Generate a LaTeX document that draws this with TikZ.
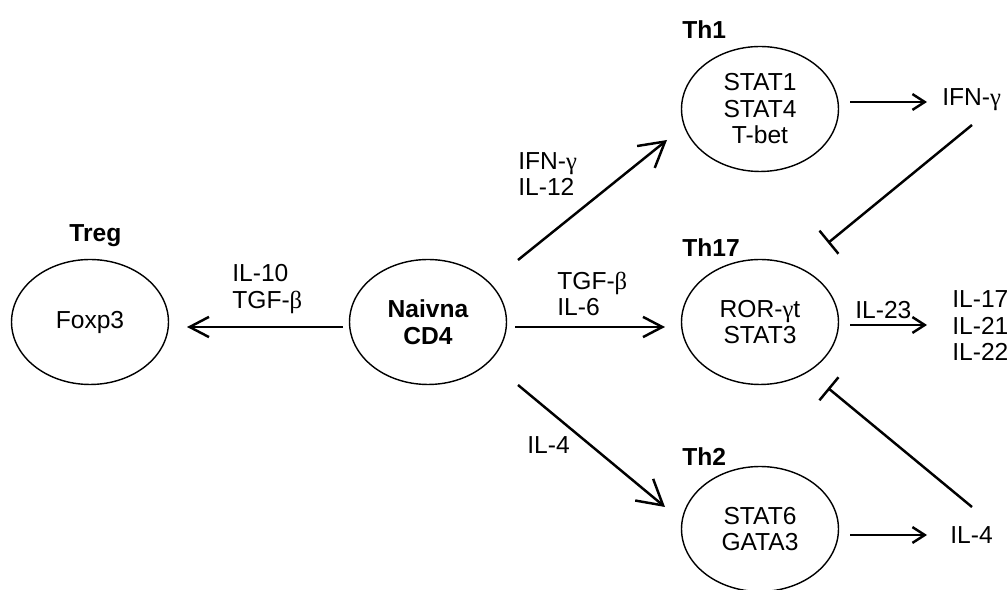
\documentclass[tikz,border=0pt]{standalone}
\usepackage{fontspec}
\setmainfont{Liberation Sans}
\newfontfamily\grk{Liberation Serif}
\usepackage{tikz}
\usetikzlibrary{calc, shapes.geometric, arrows.meta}

\newcommand{\gam}{{\grk γ}}
\newcommand{\bet}{{\grk β}}
\newcommand{\txtsize}{\fontsize{14}{15.1}\selectfont}

\begin{document}
\begin{tikzpicture}[x=0.02cm, y=-0.02cm,
    every node/.style={font=\txtsize},
    cell/.style={ellipse, draw=black, line width=0.8pt, minimum width=3.14cm, minimum height=2.5cm, inner sep=0pt, align=center},
    tag/.style={font=\txtsize\bfseries, inner sep=0pt, anchor=base west},
    txt/.style={align=left, inner sep=0pt, anchor=west},
    big/.style={line width=1.4pt, -{Straight Barb[length=14pt, width=16pt, line width=1.4pt]}},
    mid/.style={line width=1.4pt, -{Straight Barb[length=11pt, width=11.5pt, line width=1.4pt]}},
    small/.style={line width=1.4pt, -{Straight Barb[length=7pt, width=9pt, line width=1.4pt]}},
    block/.style={line width=1.4pt, -{Bar[width=17pt, line width=1.4pt]}}]

    \useasboundingbox (0,0) rectangle (1008,590);

    \node[cell, font=\txtsize\bfseries] (naive) at (428,322) {Naivna\\CD4};

    \node[cell] (treg) at (90,322) {Foxp3};

    \node[cell] (th1) at (760,109) {STAT1\\STAT4\\T-bet};

    \node[cell] (th17) at (760,322) {ROR-\gam t\\STAT3};

    \node[cell] (th2) at (760,529) {STAT6\\GATA3};

    \node[tag] (tregtag) at (69,242) {Treg};
    \node[tag] (th1tag) at (682,39) {Th1};
    \node[tag] (th17tag) at (682,257) {Th17};
    \node[tag] (th2tag) at (682,466) {Th2};

    \node[txt] (tregin) at (232,289) {IL-10\\TGF-\bet};
    \node[txt] (th1in) at (518,174) {IFN-\gam\\IL-12};
    \node[txt] (th17in) at (557,294) {TGF-\bet\\IL-6};
    \node[txt] (th2in) at (527,445) {IL-4};

    \node[txt] (ifn) at (942,100) {IFN-\gam};
    \node[txt] (il23) at (855,310) {IL-23};
    \node[txt] (ilout) at (952,326) {IL-17\\IL-21\\IL-22};
    \node[txt] (il4) at (950,535) {IL-4};

    \draw[mid] ($(naive)+(-85,5)$) -- ($(treg)+(97,5)$);
    \draw[big] ($(naive)+(90,-62)$) -- ($(th1)+(-93,31)$);
    \draw[mid] ($(naive)+(87,5)$) -- ($(th17)+(-95,5)$);
    \draw[big] ($(naive)+(90,63)$) -- ($(th2)+(-95,-22)$);

    \draw[small] ($(th1)+(90,-7)$) -- ($(ifn.west)+(-15,2)$);
    \draw[small] ($(th17)+(90,3)$) -- ($(ilout.west)+(-25,-1)$);
    \draw[small] ($(th2)+(90,6)$) -- ($(il4.west)+(-23,0)$);

    \draw[block] ($(ifn.west)+(30,25)$) -- ($(th17)+(68,-79)$);
    \draw[block] ($(il4.west)+(22,-28)$) -- ($(th17)+(68,66)$);

\end{tikzpicture}
\end{document}
